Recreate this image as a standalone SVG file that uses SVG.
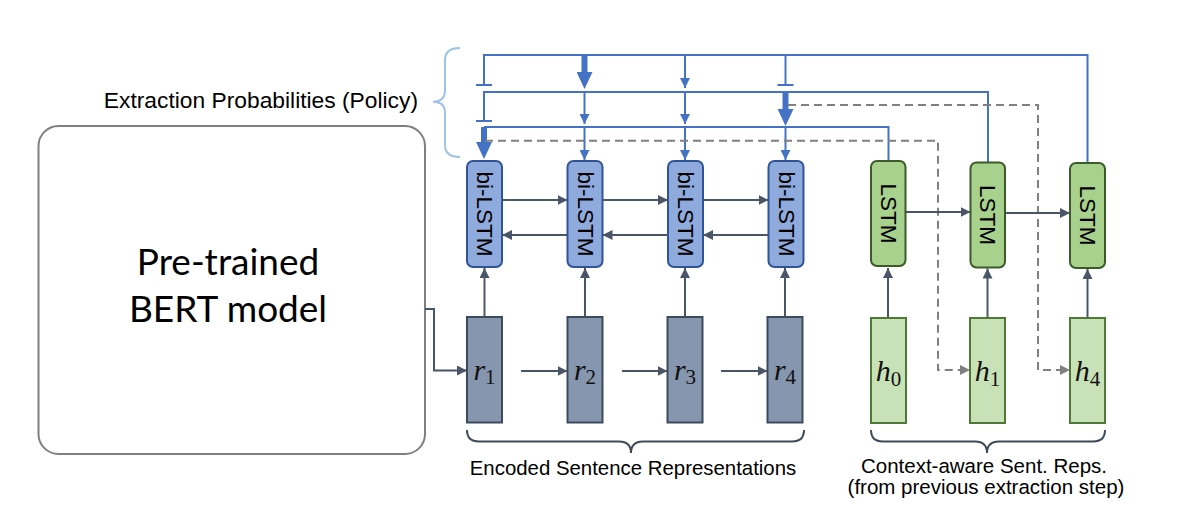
<svg xmlns="http://www.w3.org/2000/svg" width="1200" height="510" viewBox="0 0 1200 510">
<style>
.lbl{font-family:"Liberation Sans",Arial,sans-serif;fill:#000}
.rot{font-family:"Liberation Sans",Arial,sans-serif;font-size:22.5px;fill:#000;text-anchor:middle;dominant-baseline:central}
.math{font-family:"Liberation Serif","Times New Roman",serif;fill:#111;text-anchor:middle}
.bl{fill:none;stroke:#4472C4;stroke-width:2}
.blk{fill:none;stroke:#4472C4;stroke-width:6}
.dk{fill:none;stroke:#4A5568;stroke-width:2}
.ds{fill:none;stroke:#808080;stroke-width:2;stroke-dasharray:8 5}
.bilstm{fill:#8FAADC;stroke:#2F5597;stroke-width:2}
.lstm{fill:#A9D18E;stroke:#3B5B27;stroke-width:2}
.rbox{fill:#8696AE;stroke:#3C4A5E;stroke-width:2}
.hbox{fill:#C9E1B7;stroke:#4F7A35;stroke-width:2}
</style>
<defs>
<marker id="ab" viewBox="0 0 10 10" refX="10" refY="5" markerWidth="10" markerHeight="10" markerUnits="userSpaceOnUse" orient="auto"><path d="M0,0 L10,5 L0,10 z" fill="#4472C4"/></marker>
<marker id="abk" viewBox="0 0 17 16" refX="0" refY="8" markerWidth="17" markerHeight="16" markerUnits="userSpaceOnUse" orient="auto"><path d="M0,0 L17,8 L0,16 z" fill="#4472C4"/></marker>
<marker id="ad" viewBox="0 0 10 10" refX="10" refY="5" markerWidth="10" markerHeight="10" markerUnits="userSpaceOnUse" orient="auto"><path d="M0,0 L10,5 L0,10 z" fill="#4A5568"/></marker>
<marker id="ag" viewBox="0 0 10 10" refX="10" refY="5" markerWidth="10" markerHeight="10" markerUnits="userSpaceOnUse" orient="auto"><path d="M0,0 L10,5 L0,10 z" fill="#808080"/></marker>
</defs>

<!-- BERT -->
<g id="bert">
<rect x="38.5" y="126" width="386.5" height="328" rx="20" fill="#fff" stroke="#7F7F7F" stroke-width="2"/>
<text x="228" y="275" text-anchor="middle" font-family="Lato,'Open Sans',sans-serif" font-size="37" fill="#000">Pre-trained</text>
<text x="228" y="321.5" text-anchor="middle" font-family="Lato,'Open Sans',sans-serif" font-size="37" fill="#000">BERT model</text>
</g>

<g id="policy-label">
<text class="lbl" x="418" y="108" font-size="22.8" text-anchor="end">Extraction Probabilities (Policy)</text>
<path d="M460,48 Q445,48 445,60 V90 Q445,101.7 433,101.7 Q445,101.7 445,113 V145 Q445,157 460,157" fill="none" stroke="#9DC3E6" stroke-width="2"/>
</g>

<!-- connectors -->
<g id="connectors">
<!-- policy blue lines -->
<path class="bl" d="M484,85 V55 H1087.5 V163"/>
<path class="bl" d="M476,85 H492"/>
<path class="bl" d="M484,121 V92 H988 V163"/>
<path class="bl" d="M476,121 H492"/>
<path class="bl" d="M484,127 H888.5 V161"/>
<!-- col1 -->
<path class="blk" d="M484,127 V142" marker-end="url(#abk)"/>
<!-- col2 -->
<path class="blk" d="M584.5,55 V72" marker-end="url(#abk)"/>
<path class="bl" d="M584.5,92 V124" marker-end="url(#ab)"/>
<path class="bl" d="M584.5,127 V160" marker-end="url(#ab)"/>
<!-- col3 -->
<path class="bl" d="M685,55 V88" marker-end="url(#ab)"/>
<path class="bl" d="M685,92 V124" marker-end="url(#ab)"/>
<path class="bl" d="M685,127 V160" marker-end="url(#ab)"/>
<!-- col4 -->
<path class="bl" d="M785.5,55 V85"/>
<path class="bl" d="M777.5,85 H793.5"/>
<path class="blk" d="M785.5,92 V109" marker-end="url(#abk)"/>
<path class="bl" d="M785.5,127 V160" marker-end="url(#ab)"/>

<!-- dashed -->
<path class="ds" d="M485,140.7 H938 V370 H970" marker-end="url(#ag)"/>
<path class="ds" d="M788,105 H1038 V370 H1070" marker-end="url(#ag)"/>

<!-- BERT to r1 -->
<path class="dk" d="M425,309 H434 V370.5 H467" marker-end="url(#ad)"/>
<!-- r to r -->
<path class="dk" d="M521,371 H567.5" marker-end="url(#ad)"/>
<path class="dk" d="M622,371 H667.5" marker-end="url(#ad)"/>
<path class="dk" d="M721,371 H767.5" marker-end="url(#ad)"/>
<!-- r to bi-LSTM -->
<path class="dk" d="M484.5,317 V268" marker-end="url(#ad)"/>
<path class="dk" d="M585,317 V268" marker-end="url(#ad)"/>
<path class="dk" d="M685,317 V268" marker-end="url(#ad)"/>
<path class="dk" d="M785,317 V268" marker-end="url(#ad)"/>
<!-- bi-LSTM forward/backward -->
<path class="dk" d="M502,200 H567.5" marker-end="url(#ad)"/>
<path class="dk" d="M602.5,200 H668" marker-end="url(#ad)"/>
<path class="dk" d="M703,200 H768.5" marker-end="url(#ad)"/>
<path class="dk" d="M567.5,235 H502" marker-end="url(#ad)"/>
<path class="dk" d="M668,235 H602.5" marker-end="url(#ad)"/>
<path class="dk" d="M768.5,235 H703" marker-end="url(#ad)"/>
<!-- h to LSTM -->
<path class="dk" d="M888,318 V268" marker-end="url(#ad)"/>
<path class="dk" d="M987.5,318 V268.5" marker-end="url(#ad)"/>
<path class="dk" d="M1087.5,318 V269" marker-end="url(#ad)"/>
<!-- LSTM to LSTM -->
<path class="dk" d="M906,212 H970.5" marker-end="url(#ad)"/>
<path class="dk" d="M1005.5,213 H1070" marker-end="url(#ad)"/>
</g>

<!-- bi-LSTM nodes -->
<g id="bilstm1"><rect class="bilstm" x="467" y="161" width="35" height="106" rx="6"/><text class="rot" transform="translate(484.5,214) rotate(90)">bi-LSTM</text></g>
<g id="bilstm2"><rect class="bilstm" x="567.5" y="161" width="35" height="106" rx="6"/><text class="rot" transform="translate(585,214) rotate(90)">bi-LSTM</text></g>
<g id="bilstm3"><rect class="bilstm" x="668" y="161" width="35" height="106" rx="6"/><text class="rot" transform="translate(685.5,214) rotate(90)">bi-LSTM</text></g>
<g id="bilstm4"><rect class="bilstm" x="768.5" y="161" width="35" height="106" rx="6"/><text class="rot" transform="translate(786,214) rotate(90)">bi-LSTM</text></g>

<!-- LSTM nodes -->
<g id="lstm1"><rect class="lstm" x="871" y="161" width="34.5" height="105" rx="6"/><text class="rot" transform="translate(888.3,213.5) rotate(90)">LSTM</text></g>
<g id="lstm2"><rect class="lstm" x="970.5" y="162.5" width="34.5" height="105" rx="6"/><text class="rot" transform="translate(987.8,215) rotate(90)">LSTM</text></g>
<g id="lstm3"><rect class="lstm" x="1070" y="163" width="35" height="105" rx="6"/><text class="rot" transform="translate(1087.5,215.5) rotate(90)">LSTM</text></g>

<!-- r nodes -->
<g id="r1"><rect class="rbox" x="467" y="317" width="35" height="105.5"/><text class="math" x="484.5" y="380"><tspan font-style="italic" font-size="30">r</tspan><tspan font-size="21" dy="3.5">1</tspan></text></g>
<g id="r2"><rect class="rbox" x="567.5" y="317" width="35" height="105.5"/><text class="math" x="585" y="380"><tspan font-style="italic" font-size="30">r</tspan><tspan font-size="21" dy="3.5">2</tspan></text></g>
<g id="r3"><rect class="rbox" x="667.5" y="317" width="35" height="105.5"/><text class="math" x="685" y="380"><tspan font-style="italic" font-size="30">r</tspan><tspan font-size="21" dy="3.5">3</tspan></text></g>
<g id="r4"><rect class="rbox" x="767.5" y="317" width="35" height="105.5"/><text class="math" x="785" y="380"><tspan font-style="italic" font-size="30">r</tspan><tspan font-size="21" dy="3.5">4</tspan></text></g>

<!-- h nodes -->
<g id="h0"><rect class="hbox" x="871" y="318" width="35" height="105"/><text class="math" x="888.5" y="381"><tspan font-style="italic" font-size="30">h</tspan><tspan font-size="21" dy="5">0</tspan></text></g>
<g id="h1"><rect class="hbox" x="970" y="318" width="35" height="105"/><text class="math" x="987.5" y="381"><tspan font-style="italic" font-size="30">h</tspan><tspan font-size="21" dy="5">1</tspan></text></g>
<g id="h4"><rect class="hbox" x="1070" y="318" width="35" height="105"/><text class="math" x="1087.5" y="381"><tspan font-style="italic" font-size="30">h</tspan><tspan font-size="21" dy="5">4</tspan></text></g>

<!-- braces and labels -->
<g id="enc-label">
<path d="M467,430 Q467,441.5 479,441.5 H619 Q631,441.5 631,453 Q631,441.5 643,441.5 H792 Q804,441.5 804,430" fill="none" stroke="#3F4A5A" stroke-width="2"/>
<text class="lbl" x="633" y="475" font-size="20.4" text-anchor="middle">Encoded Sentence Representations</text>
</g>
<g id="ctx-label">
<path d="M871,430 Q871,441.5 883,441.5 H975 Q987,441.5 987,453 Q987,441.5 999,441.5 H1093 Q1105,441.5 1105,430" fill="none" stroke="#3F4A5A" stroke-width="2"/>
<text class="lbl" x="984" y="472.5" font-size="20.5" text-anchor="middle">Context-aware Sent. Reps.</text>
<text class="lbl" x="986" y="494" font-size="20.5" text-anchor="middle">(from previous extraction step)</text>
</g>
</svg>
